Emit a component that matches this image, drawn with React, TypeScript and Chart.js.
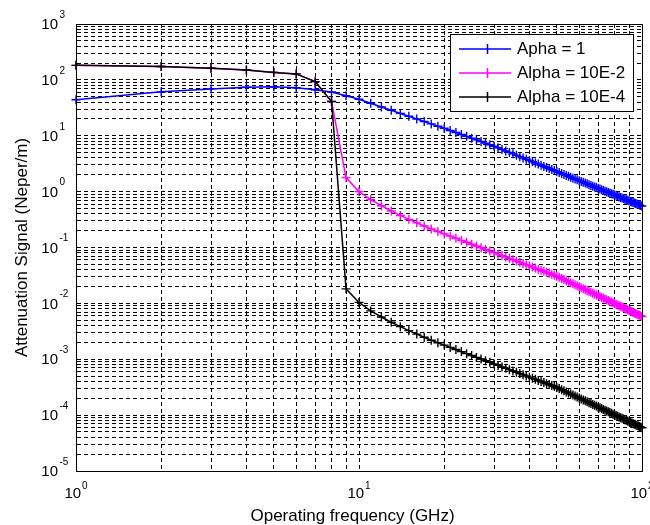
import React, { useEffect, useRef } from 'react';
import { Chart, registerables } from 'chart.js';

Chart.register(...registerables);

const frequencies = [
  1, 2, 3, 4, 5, 6, 7, 8, 9, 10,
  11, 12, 13, 14, 15, 16, 17, 18, 19, 20,
  21, 22, 23, 24, 25, 26, 27, 28, 29, 30,
  31, 32, 33, 34, 35, 36, 37, 38, 39, 40,
  41, 42, 43, 44, 45, 46, 47, 48, 49, 50,
  51, 52, 53, 54, 55, 56, 57, 58, 59, 60,
  61, 62, 63, 64, 65, 66, 67, 68, 69, 70,
  71, 72, 73, 74, 75, 76, 77, 78, 79, 80,
  81, 82, 83, 84, 85, 86, 87, 88, 89, 90,
  91, 92, 93, 94, 95, 96, 97, 98, 99, 100,
];

const alpha1 = [
  44, 61, 69, 74, 75.5, 72.5, 66.5, 60.5, 52, 45,
  38.2, 32.8, 28.6, 25.1, 22.3, 20.0, 18.0, 16.3, 14.8, 13.6,
  12.44, 11.43, 10.55, 9.76, 9.06, 8.44, 7.88, 7.37, 6.92, 6.5,
  6.08, 5.69, 5.35, 5.03, 4.74, 4.47, 4.23, 4.0, 3.8, 3.6,
  3.43, 3.26, 3.11, 2.96, 2.83, 2.71, 2.59, 2.48, 2.38, 2.28,
  2.19, 2.1, 2.02, 1.95, 1.88, 1.81, 1.74, 1.68, 1.63, 1.57,
  1.52, 1.47, 1.42, 1.38, 1.33, 1.29, 1.25, 1.21, 1.18, 1.14,
  1.11, 1.08, 1.05, 1.02, 0.993, 0.967, 0.941, 0.917, 0.893, 0.87,
  0.848, 0.827, 0.807, 0.787, 0.768, 0.75, 0.733, 0.716, 0.699, 0.684,
  0.668, 0.653, 0.639, 0.625, 0.612, 0.599, 0.586, 0.574, 0.562, 0.551,
];

const alpha1e2 = [
  182, 174, 162, 150, 136, 128, 93, 41, 1.78, 1.0,
  0.72, 0.56, 0.45, 0.375, 0.319, 0.276, 0.242, 0.215, 0.193, 0.175,
  0.1595, 0.146, 0.134, 0.1238, 0.1145, 0.1063, 0.0989, 0.0923, 0.0864, 0.081,
  0.0761, 0.0716, 0.0676, 0.0639, 0.0604, 0.0573, 0.0544, 0.0517, 0.0492, 0.0469,
  0.0447, 0.0428, 0.0409, 0.0391, 0.0375, 0.0359, 0.0345, 0.0332, 0.0319, 0.0307,
  0.02928, 0.02794, 0.02669, 0.02552, 0.02443, 0.02339, 0.02242, 0.0215, 0.02064, 0.01982,
  0.01905, 0.01832, 0.01763, 0.01697, 0.01635, 0.01577, 0.01521, 0.01468, 0.01417, 0.01369,
  0.01323, 0.0128, 0.01238, 0.01198, 0.0116, 0.01124, 0.01089, 0.01056, 0.01024, 0.00994,
  0.00965, 0.00937, 0.0091, 0.00884, 0.00859, 0.00835, 0.00812, 0.00791, 0.00769, 0.00749,
  0.00729, 0.0071, 0.00692, 0.00675, 0.00658, 0.00641, 0.00626, 0.00611, 0.00596, 0.00582,
];

const alpha1e4 = [
  182, 174, 162, 150, 136, 128, 93, 41, 0.0182, 0.0104,
  0.00734, 0.00571, 0.00459, 0.00383, 0.00325, 0.00282, 0.00247, 0.00219, 0.00197, 0.00179,
  0.00163, 0.00149, 0.00137, 0.00126, 0.00117, 0.00108, 0.00101, 0.000941, 0.000881, 0.000826,
  0.000776, 0.00073, 0.00069, 0.000652, 0.000616, 0.000584, 0.000555, 0.000527, 0.000502, 0.000478,
  0.000456, 0.000437, 0.000417, 0.000399, 0.000383, 0.000366, 0.000352, 0.000339, 0.000325, 0.000313,
  0.000299, 0.000285, 0.000272, 0.00026, 0.000249, 0.000239, 0.000229, 0.000219, 0.000211, 0.000202,
  0.000194, 0.000187, 0.00018, 0.000173, 0.000167, 0.000161, 0.000155, 0.00015, 0.000145, 0.00014,
  0.000135, 0.000131, 0.000126, 0.000122, 0.000118, 0.000115, 0.000111, 0.000108, 0.000104, 0.000101,
  0.0000984, 0.0000956, 0.0000928, 0.0000902, 0.0000876, 0.0000852, 0.0000828, 0.0000807, 0.0000784, 0.0000764,
  0.0000744, 0.0000724, 0.0000706, 0.0000689, 0.0000671, 0.0000654, 0.0000639, 0.0000623, 0.0000608, 0.0000594,
];

const seriesLabels = ['Apha = 1', 'Alpha = 10E-2', 'Alpha = 10E-4'];
const seriesColors = ['#0000ff', '#ff00ff', '#000000'];
const xExponents = [0, 1, 2];
const yExponents = [-5, -4, -3, -2, -1, 0, 1, 2, 3];
const xTitle = 'Operating frequency (GHz)';
const yTitle = 'Attenuation Signal (Neper/m)';

const FONT = '"Liberation Sans", Arial, Helvetica, sans-serif';

function logTicks(exps: number[]) {
  const t: { value: number; major: boolean }[] = [];
  for (let i = 0; i < exps.length - 1; i++) {
    for (let k = 1; k < 10; k++) {
      t.push({ value: k * Math.pow(10, exps[i]), major: k === 1 });
    }
  }
  t.push({ value: Math.pow(10, exps[exps.length - 1]), major: true });
  return t;
}

const decorPlugin = {
  id: 'decor',
  afterDraw(chart: any) {
    const { ctx, chartArea, scales } = chart;
    const xs = scales.x;
    const ys = scales.y;
    ctx.save();
    ctx.setLineDash([]);
    // box
    ctx.strokeStyle = '#000000';
    ctx.lineWidth = 1;
    ctx.strokeRect(
      Math.round(chartArea.left) + 0.5,
      Math.round(chartArea.top) + 0.5,
      Math.round(chartArea.right - chartArea.left),
      Math.round(chartArea.bottom - chartArea.top)
    );

    ctx.fillStyle = '#000000';
    // y tick labels
    yExponents.forEach((e) => {
      const y = ys.getPixelForValue(Math.pow(10, e));
      ctx.font = `15px ${FONT}`;
      ctx.textAlign = 'right';
      ctx.textBaseline = 'middle';
      ctx.fillText('10', 58, y + 1);
      ctx.font = `10px ${FONT}`;
      ctx.textAlign = 'left';
      ctx.fillText(String(e), 59.5, y - 9);
    });
    // x tick labels
    xExponents.forEach((e) => {
      const x = xs.getPixelForValue(Math.pow(10, e));
      ctx.font = `15px ${FONT}`;
      const w10 = ctx.measureText('10').width;
      ctx.font = `10px ${FONT}`;
      const we = ctx.measureText(String(e)).width;
      const start = x - (w10 + 1 + we) / 2;
      ctx.font = `15px ${FONT}`;
      ctx.textAlign = 'left';
      ctx.textBaseline = 'middle';
      ctx.fillText('10', start, chartArea.bottom + 23);
      ctx.font = `10px ${FONT}`;
      ctx.fillText(String(e), start + w10 + 1, chartArea.bottom + 15);
    });
    // titles
    ctx.font = `17px ${FONT}`;
    ctx.textAlign = 'center';
    ctx.textBaseline = 'alphabetic';
    ctx.fillText(xTitle, 352.5, 520.5);
    ctx.save();
    ctx.translate(27, (chartArea.top + chartArea.bottom) / 2);
    ctx.rotate(-Math.PI / 2);
    ctx.fillText(yTitle, 0, 0);
    ctx.restore();

    // legend
    const lx = 450.5, ly = 34.5, lw = 183, lh = 77;
    ctx.fillStyle = '#ffffff';
    ctx.fillRect(lx, ly, lw, lh);
    ctx.strokeStyle = '#000000';
    ctx.lineWidth = 1;
    ctx.strokeRect(lx, ly, lw, lh);
    const rowY = [49, 73, 97];
    for (let i = 0; i < seriesLabels.length; i++) {
      const y = rowY[i];
      ctx.beginPath();
      ctx.strokeStyle = seriesColors[i];
      ctx.lineWidth = 1.5;
      ctx.moveTo(459, y);
      ctx.lineTo(511, y);
      ctx.moveTo(487.5, y - 5);
      ctx.lineTo(487.5, y + 5);
      ctx.stroke();
      ctx.fillStyle = '#000000';
      ctx.font = `17px ${FONT}`;
      ctx.textAlign = 'left';
      ctx.textBaseline = 'middle';
      ctx.fillText(seriesLabels[i], 517, y);
    }
    ctx.restore();
  },
};

export default function App() {
  const ref = useRef<HTMLCanvasElement | null>(null);
  useEffect(() => {
    if (!ref.current) return;
    const mk = (vals: number[]) => frequencies.map((f, i) => ({ x: f, y: vals[i] }));
    const series = [alpha1, alpha1e2, alpha1e4];
    // draw order: dataset index 0 is drawn on top, so black first
    const order = [2, 1, 0];
    const datasets = order.map((i) => ({
      label: seriesLabels[i],
      data: mk(series[i]),
      borderColor: seriesColors[i],
      backgroundColor: seriesColors[i],
      borderWidth: 1.5,
      pointStyle: 'cross',
      pointRadius: 4.5,
      pointBorderWidth: 1.4,
      pointBorderColor: seriesColors[i],
      tension: 0,
      fill: false,
      clip: 6,
    }));
    const chart = new Chart(ref.current, {
      type: 'line',
      data: { datasets } as any,
      options: {
        animation: false,
        responsive: false,
        devicePixelRatio: 1,
        events: [],
        layout: { padding: { left: 76, top: 24, right: 8, bottom: 54 } },
        plugins: { legend: { display: false }, tooltip: { enabled: false } },
        scales: {
          x: {
            type: 'logarithmic',
            min: 1,
            max: 100,
            afterBuildTicks: (axis: any) => { axis.ticks = logTicks(xExponents); },
            ticks: { display: false },
            grid: { color: '#000', lineWidth: 1, drawTicks: false },
            border: { display: true, color: '#000', width: 1, dash: [4, 3] },
          },
          y: {
            type: 'logarithmic',
            min: 1e-5,
            max: 1e3,
            afterBuildTicks: (axis: any) => { axis.ticks = logTicks(yExponents); },
            ticks: { display: false },
            grid: { color: '#000', lineWidth: 1, drawTicks: false },
            border: { display: true, color: '#000', width: 1, dash: [4, 3] },
          },
        },
      } as any,
      plugins: [decorPlugin],
    });
    return () => chart.destroy();
  }, []);
  return (
    <div style={{ position: 'fixed', left: 0, top: 0, width: 650, height: 525, background: '#fff' }}>
      <canvas ref={ref} width={650} height={525} style={{ display: 'block', width: 650, height: 525 }} />
    </div>
  );
}
